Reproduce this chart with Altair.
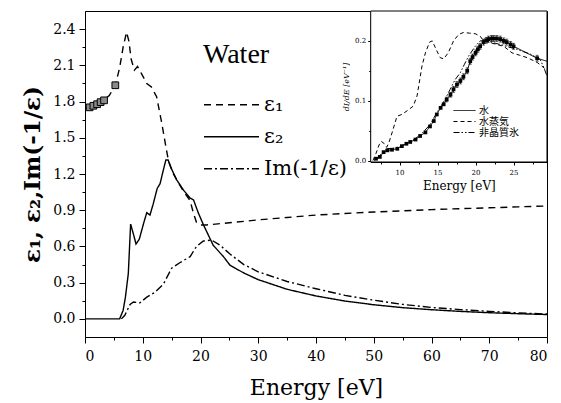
import altair as alt
import pandas as pd

SERIF = "DejaVu Serif"
TIMES = "Liberation Serif"

# ---------------- main panel: dielectric function of liquid water ----------------
e1_energy = [0.1, 0.87, 2.0, 3.2, 4.2, 5.25, 6.0, 6.6, 7.2, 7.6, 8.0, 8.55, 9.1, 9.8, 10.7,
             11.5, 12.4, 13.3, 14.1, 14.5, 15.2, 15.9, 17.0, 18.2, 18.75, 19.3, 20.0, 21.0,
             23.0, 25.0, 30.0, 35.0, 40.0, 45.0, 50.0, 55.0, 60.0, 65.0, 70.0, 75.0, 80.0]
e1_value = [1.745, 1.753, 1.778, 1.81, 1.85, 1.935, 2.08, 2.25, 2.375, 2.30, 2.15, 2.06, 2.09,
            2.03, 1.95, 1.92, 1.84, 1.62, 1.40, 1.30, 1.21, 1.15, 1.06, 0.98, 0.88, 0.80,
            0.777, 0.778, 0.787, 0.796, 0.82, 0.84, 0.86, 0.873, 0.885, 0.895, 0.905, 0.913,
            0.92, 0.928, 0.935]

e2_energy = [0.0, 6.0, 6.6, 7.0, 7.5, 7.9, 8.4, 8.83, 9.4, 10.2, 10.7, 11.25, 11.8, 12.5, 13.0,
             13.5, 14.0, 14.4, 15.0, 15.9, 17.0, 18.2, 18.8, 19.6, 20.5, 22.2, 24.0, 25.1,
             27.5, 30.0, 35.0, 40.0, 45.0, 50.0, 55.0, 60.0, 65.0, 70.0, 75.0, 80.0]
e2_value = [0.0, 0.0, 0.07, 0.18, 0.376, 0.785, 0.70, 0.62, 0.66, 0.80, 0.88, 0.86, 0.95, 1.08,
            1.12, 1.22, 1.316, 1.316, 1.24, 1.15, 1.07, 1.0, 0.985, 0.88, 0.78, 0.61, 0.514,
            0.445, 0.38, 0.325, 0.245, 0.19, 0.148, 0.117, 0.093, 0.076, 0.062, 0.051, 0.043,
            0.036]

elf_energy = [6.3, 6.9, 7.4, 7.8, 8.4, 9.5, 10.7, 12.1, 13.6, 15.0, 16.4, 18.2, 19.3, 20.5,
              21.9, 23.4, 25.1, 27.5, 30.0, 35.0, 40.0, 45.0, 50.0, 55.0, 60.0, 65.0, 70.0,
              75.0, 80.0]
elf_value = [0.0, 0.03, 0.08, 0.12, 0.14, 0.133, 0.18, 0.22, 0.29, 0.42, 0.465, 0.515, 0.60,
             0.645, 0.653, 0.61, 0.537, 0.45, 0.39, 0.31, 0.25, 0.195, 0.155, 0.12, 0.095,
             0.077, 0.062, 0.05, 0.04]

# measured points of eps1 at low energy
meas_energy = [0.8, 1.45, 2.1, 2.7, 3.3, 5.25]
meas_value = [1.752, 1.765, 1.778, 1.795, 1.81, 1.935]

main_series = ["ε₁", "ε₂", "Im(-1/ε)"]
main_dashes = [[7, 5], [1, 0], [8, 3, 2, 3]]

main_x_domain = [0, 80]
main_y_domain = [-0.15, 2.55]
main_x_ticks = list(range(0, 81, 5))
main_y_ticks = [0.0, 0.15, 0.3, 0.45, 0.6, 0.75, 0.9, 1.05, 1.2, 1.35, 1.5, 1.65, 1.8,
                1.95, 2.1, 2.25, 2.4]

# ---------------- inset: energy-loss spectra ----------------
water_energy = [6.9, 7.4, 7.9, 8.4, 9.0, 9.7, 10.3, 10.9, 11.4, 12.1, 12.7, 13.4, 14.0, 14.5,
                14.9, 15.4, 15.8, 16.2, 16.7, 17.1, 17.55, 18.0, 18.4, 18.9, 19.3, 19.6, 20.0,
                20.3, 20.6, 21.05, 21.4, 21.7, 22.1, 22.4, 22.8, 23.25, 23.7, 24.1, 24.6,
                25.0, 28.1]
water_value = [0.003, 0.006, 0.014, 0.017, 0.018, 0.0196, 0.024, 0.028, 0.031, 0.035, 0.041,
               0.047, 0.057, 0.066, 0.077, 0.088, 0.094, 0.102, 0.11, 0.119, 0.127, 0.133,
               0.14, 0.15, 0.166, 0.173, 0.180, 0.186, 0.191, 0.198, 0.201, 0.203, 0.204,
               0.204, 0.204, 0.203, 0.2, 0.198, 0.194, 0.191, 0.171]
water_err = [0.0, 0.0, 0.0, 0.0, 0.0, 0.0, 0.0, 0.0, 0.0, 0.0, 0.0, 0.0, 0.0, 0.0, 0.0, 0.0,
             0.0, 0.004, 0.004, 0.005, 0.005, 0.005, 0.005, 0.005, 0.005, 0.005, 0.005,
             0.005, 0.005, 0.005, 0.005, 0.005, 0.005, 0.005, 0.005, 0.005, 0.005, 0.005,
             0.005, 0.005, 0.005]
water_tail_energy = [29.4]
water_tail_value = [0.166]

vapour_energy = [6.5, 6.9, 7.3, 7.6, 8.0, 8.3, 8.6, 9.0, 9.66, 10.3, 11.2, 11.8, 12.3, 12.95,
                 13.4, 13.95, 14.3, 14.8, 15.35, 15.8, 16.4, 17.1, 17.8, 18.4, 19.2, 19.96,
                 20.6, 21.05, 21.9, 22.8, 23.7, 24.8, 25.8, 26.8, 28.1, 29.0, 29.4]
vapour_value = [0.0, 0.012, 0.026, 0.032, 0.028, 0.022, 0.03, 0.046, 0.074, 0.077, 0.085,
                0.091, 0.108, 0.158, 0.18, 0.198, 0.20, 0.186, 0.172, 0.170, 0.18, 0.20,
                0.211, 0.214, 0.213, 0.212, 0.208, 0.20, 0.197, 0.194, 0.191, 0.18, 0.176,
                0.172, 0.164, 0.155, 0.15]

ice_energy = [6.7, 7.2, 7.9, 8.4, 9.0, 10.0, 11.0, 12.0, 13.0, 14.0, 15.0, 15.8, 16.66, 17.3,
              18.0, 18.5, 19.1, 19.96, 20.6, 21.5, 22.3, 23.25, 24.3, 25.45, 26.3, 27.2,
              28.5, 29.0, 29.4]
ice_value = [0.0, 0.006, 0.015, 0.02, 0.02, 0.023, 0.029, 0.036, 0.046, 0.06, 0.082, 0.098,
             0.119, 0.135, 0.147, 0.16, 0.175, 0.191, 0.20, 0.20, 0.197, 0.194, 0.19, 0.186,
             0.182, 0.178, 0.169, 0.155, 0.141]

inset_series = ["水", "水蒸気", "非晶質氷"]
inset_dashes = [[1, 0], [4, 3], [6, 2, 1.5, 2, 1.5, 2]]

inset_x_domain = [6.2, 29.4]
inset_y_domain = [-0.0025, 0.25]
inset_x_range = [285.7, 462]
inset_y_range = [151, 0]
inset_x_ticks = [7.5, 10, 12.5, 15, 17.5, 20, 22.5, 25, 27.5]
inset_y_ticks = [0.0, 0.05, 0.1, 0.15, 0.2]

# ---------------- tables ----------------
main_df = pd.concat([
    pd.DataFrame({"E": e1_energy, "v": e1_value, "s": main_series[0]}),
    pd.DataFrame({"E": e2_energy, "v": e2_value, "s": main_series[1]}),
    pd.DataFrame({"E": elf_energy, "v": elf_value, "s": main_series[2]}),
])
meas_df = pd.DataFrame({"E": meas_energy, "v": meas_value})

water_df = pd.DataFrame({"E": water_energy, "v": water_value, "err": water_err})
water_df["lo"] = water_df["v"] - water_df["err"]
water_df["hi"] = water_df["v"] + water_df["err"]
err_df = water_df[water_df["err"] > 0]

inset_df = pd.concat([
    pd.DataFrame({"E": water_energy + water_tail_energy,
                  "v": water_value + water_tail_value, "s": inset_series[0]}),
    pd.DataFrame({"E": vapour_energy, "v": vapour_value, "s": inset_series[1]}),
    pd.DataFrame({"E": ice_energy, "v": ice_value, "s": inset_series[2]}),
])
frame_df = pd.DataFrame({"x0": [inset_x_domain[0]], "x1": [inset_x_domain[1]],
                         "y0": [inset_y_domain[0]], "y1": [inset_y_domain[1]]})

# ---------------- main panel ----------------
main_x_axis = alt.Axis(
    values=main_x_ticks,
    labelExpr="datum.value % 10 === 0 ? format(datum.value, 'd') : ''",
    tickSize={"condition": {"test": "datum.value % 10 === 0", "value": 6}, "value": 3},
    title="Energy [eV]", titleFontSize=22, titleFont=SERIF, titleFontWeight="normal",
    titlePadding=14, labelFontSize=14, labelFont=SERIF, labelPadding=6,
    grid=False, domainColor="black", tickColor="black", labelColor="black",
    titleColor="black",
)
major_y = "abs(datum.value * 10 / 3 - round(datum.value * 10 / 3)) < 0.01"
main_y_axis = alt.Axis(
    values=main_y_ticks,
    labelExpr=f"{major_y} ? format(datum.value, '.1f') : ''",
    tickSize={"condition": {"test": major_y, "value": 6}, "value": 3},
    title="ε₁, ε₂,Im(-1/ε)", titleFontSize=23, titleFont=SERIF, titleFontWeight="bold",
    titlePadding=8, labelFontSize=14, labelFont=SERIF, labelPadding=4,
    grid=False, domainColor="black", tickColor="black", labelColor="black",
    titleColor="black",
)
mx = alt.X("E:Q", scale=alt.Scale(domain=main_x_domain, nice=False, zero=False),
           axis=main_x_axis)
my = alt.Y("v:Q", scale=alt.Scale(domain=main_y_domain, nice=False, zero=False),
           axis=main_y_axis)

main_lines = alt.Chart(main_df).mark_line(color="black", strokeWidth=1.4).encode(
    x=mx, y=my,
    strokeDash=alt.StrokeDash(
        "s:N",
        scale=alt.Scale(domain=main_series, range=main_dashes),
        legend=alt.Legend(
            orient="none", legendX=118, legendY=30, title="Water",
            titleFontSize=28, titleFont=TIMES, titleFontWeight="normal", titleColor="black",
            titlePadding=20, labelFontSize=21, labelFont=SERIF, labelColor="black",
            symbolType="stroke", symbolSize=3025, symbolStrokeWidth=1.5,
            symbolStrokeColor="black", clipHeight=31.5, rowPadding=0, labelOffset=4,
        ),
    ),
)
main_marks = alt.Chart(meas_df).mark_point(
    shape="square", filled=True, fill="#8a8a8a", stroke="black", strokeWidth=1,
    size=45, opacity=1,
).encode(x=mx, y=my)

main_panel = alt.layer(main_lines, main_marks)

# ---------------- inset ----------------
inset_x_axis = alt.Axis(
    orient="bottom", offset=-175, values=inset_x_ticks,
    labelExpr="datum.value % 5 === 0 ? format(datum.value, 'd') : ''",
    tickSize={"condition": {"test": "datum.value % 5 === 0", "value": 3}, "value": 2},
    title="Energy [eV]", titleFontSize=12, titleFont=SERIF, titleFontWeight="normal",
    titlePadding=5, labelFontSize=7, labelFont=SERIF, labelPadding=3, grid=False,
    domainColor="black", tickColor="black", labelColor="black", titleColor="black",
)
inset_y_axis = alt.Axis(
    orient="left", offset=-285.7, values=inset_y_ticks,
    labelExpr="abs(datum.value * 10 - round(datum.value * 10)) < 0.01 ? format(datum.value, '.1f') : ''",
    tickSize={"condition": {"test": "abs(datum.value * 10 - round(datum.value * 10)) < 0.01",
                            "value": 3}, "value": 2},
    title="dI/dE [eV⁻¹]", titleFontSize=8, titleFont=SERIF, titleFontStyle="italic",
    titleFontWeight="normal", titlePadding=4, labelFontSize=7, labelFont=SERIF,
    labelPadding=2, grid=False, domainColor="black", tickColor="black",
    labelColor="black", titleColor="black",
)
in_xscale = alt.Scale(domain=inset_x_domain, range=inset_x_range, nice=False, zero=False)
in_yscale = alt.Scale(domain=inset_y_domain, range=inset_y_range, nice=False, zero=False)

frame = alt.Chart(frame_df).mark_rect(fill="white", stroke="black", strokeWidth=1).encode(
    x=alt.X("x0:Q", scale=in_xscale, axis=inset_x_axis),
    x2="x1",
    y=alt.Y("y0:Q", scale=in_yscale, axis=inset_y_axis),
    y2="y1",
)
ix = alt.X("E:Q", scale=in_xscale, axis=inset_x_axis)
iy = alt.Y("v:Q", scale=in_yscale, axis=inset_y_axis)

inset_lines = alt.Chart(inset_df).mark_line(color="black", strokeWidth=1).encode(
    x=ix, y=iy,
    strokeDash=alt.StrokeDash(
        "s:N",
        scale=alt.Scale(domain=inset_series, range=inset_dashes),
        legend=alt.Legend(
            orient="none", legendX=368, legendY=94, title=None,
            labelFontSize=10, labelFont="Noto Sans CJK JP", labelColor="black",
            symbolType="stroke", symbolSize=484, symbolStrokeWidth=1,
            symbolStrokeColor="black", clipHeight=11, rowPadding=0, labelOffset=3,
        ),
    ),
)
err_bars = alt.Chart(err_df).mark_rule(color="black", strokeWidth=0.8).encode(
    x=ix, y=alt.Y("lo:Q", scale=in_yscale, axis=inset_y_axis), y2="hi",
)
err_caps_lo = alt.Chart(err_df).mark_tick(color="black", orient="horizontal", size=3,
                                          thickness=0.8).encode(
    x=ix, y=alt.Y("lo:Q", scale=in_yscale, axis=inset_y_axis))
err_caps_hi = alt.Chart(err_df).mark_tick(color="black", orient="horizontal", size=3,
                                          thickness=0.8).encode(
    x=ix, y=alt.Y("hi:Q", scale=in_yscale, axis=inset_y_axis))
water_pts = alt.Chart(water_df).mark_point(
    shape="square", filled=True, color="black", size=14, opacity=1,
).encode(x=ix, y=iy)

inset_panel = alt.layer(frame, inset_lines, err_bars, err_caps_lo, err_caps_hi, water_pts)

chart = (
    alt.layer(main_panel, inset_panel)
    .resolve_scale(x="independent", y="independent", strokeDash="independent")
    .resolve_legend(strokeDash="independent")
    .properties(
        width=462, height=326,
        padding={"left": 85, "top": 11, "right": 14, "bottom": 66},
        autosize=alt.AutoSizeParams(type="none"),
        background="white",
    )
    .configure_view(stroke="black", strokeWidth=1)
)

chart.save("out.html", embed_options={"renderer": "svg", "actions": False})
